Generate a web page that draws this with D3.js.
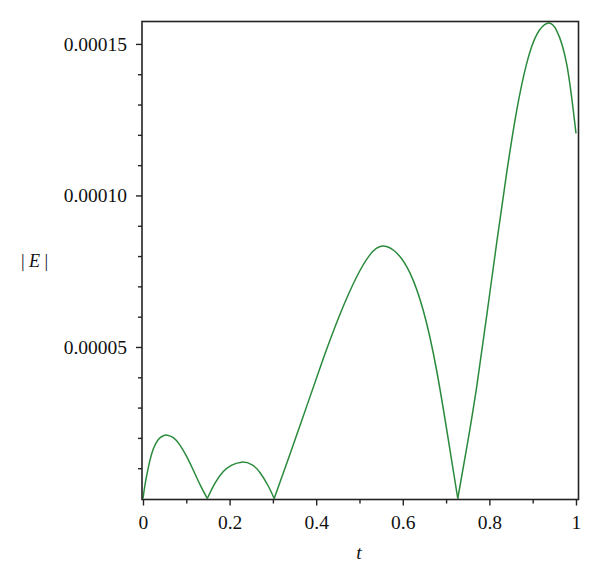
<!DOCTYPE html>
<html>
<head>
<meta charset="utf-8">
<script src="https://cdn.jsdelivr.net/npm/d3@7/dist/d3.min.js"></script>
<style>
  body { margin: 0; background: #fff; }
  svg text { font-family: "Liberation Serif", "DejaVu Serif", serif; fill: #111; }
</style>
</head>
<body>
<svg id="chart" width="600" height="581"></svg>
<script>
// |E(t)|; zeros split the curve into arches
const tValues = [
  0, 0.0046, 0.010, 0.016, 0.024, 0.035, 0.047, 0.056, 0.070, 0.085, 0.101, 0.116, 0.132, 0.1485,
  0.166, 0.185, 0.205, 0.228, 0.251, 0.270, 0.289, 0.303,
  0.339, 0.378, 0.416, 0.455, 0.493, 0.524, 0.553, 0.586, 0.617, 0.647, 0.678, 0.709, 0.727,
  0.748, 0.771, 0.794, 0.817, 0.840, 0.863, 0.886, 0.909, 0.934, 0.955, 0.979, 1.0
]
const eValues = [
  0, 0.45e-5, 0.86e-5, 1.26e-5, 1.64e-5, 1.94e-5, 2.07e-5, 2.09e-5, 2.01e-5, 1.77e-5, 1.38e-5, 0.94e-5, 0.45e-5, 0,
  0.50e-5, 0.88e-5, 1.10e-5, 1.20e-5, 1.12e-5, 0.86e-5, 0.42e-5, 0,
  1.44e-5, 3.04e-5, 4.60e-5, 6.08e-5, 7.30e-5, 8.04e-5, 8.33e-5, 8.10e-5, 7.43e-5, 6.22e-5, 4.24e-5, 1.60e-5, 0,
  1.70e-5, 3.72e-5, 6.05e-5, 8.45e-5, 10.75e-5, 12.8e-5, 14.35e-5, 15.3e-5, 15.68e-5, 15.45e-5, 14.3e-5, 12.05e-5
]

const xMajor = [0, 0.2, 0.4, 0.6, 0.8, 1]
const xMinor = [0.1, 0.3, 0.5, 0.7, 0.9]
const yMajor = [0.00005, 0.0001, 0.00015]
const yMinor = [0.00001, 0.00002, 0.00003, 0.00004, 0.00006, 0.00007, 0.00008, 0.00009,
                0.00011, 0.00012, 0.00013, 0.00014]

const LEFT = 142, RIGHT = 578.5, TOP = 21.5, BOTTOM = 499.5

const x = d3.scaleLinear().domain([-0.0023, 1.0058]).range([LEFT, RIGHT])
const y = d3.scaleLinear().domain([-0.033e-5, 15.74e-5]).range([BOTTOM, TOP])

const svg = d3.select('svg#chart')

// split into arches at interior zeros
const points = tValues.map((t, i) => [t, eValues[i]])
const arches = []
let current = []
points.forEach((p, i) => {
  current.push(p)
  if (p[1] === 0 && i > 0 && i < points.length - 1) {
    arches.push(current)
    current = [p]
  }
})
arches.push(current)

const line = d3.line()
  .x(d => x(d[0]))
  .y(d => y(d[1]))
  .curve(d3.curveNatural)

svg.selectAll('path.curve')
  .data(arches)
  .enter()
  .append('path')
  .attr('class', 'curve')
  .attr('d', line)
  .attr('fill', 'none')
  .attr('stroke', '#2a8a3c')
  .attr('stroke-width', 1.5)

// frame
svg.append('rect')
  .attr('x', LEFT)
  .attr('y', TOP)
  .attr('width', RIGHT - LEFT)
  .attr('height', BOTTOM - TOP)
  .attr('fill', 'none')
  .attr('stroke', '#222')
  .attr('stroke-width', 1.6)

const fmtX = d3.format('~g')
const fmtY = d3.format('.5f')

// x axis
svg.append('g')
  .attr('transform', `translate(0,${BOTTOM})`)
  .call(d3.axisBottom(x).tickValues(xMinor).tickSize(4).tickFormat(''))
  .call(g => g.select('.domain').remove())
svg.append('g')
  .attr('transform', `translate(0,${BOTTOM})`)
  .call(d3.axisBottom(x).tickValues(xMajor).tickSize(6).tickPadding(10).tickFormat(fmtX))
  .call(g => g.select('.domain').remove())
  .call(g => g.selectAll('text').attr('font-size', '19.5px').attr('font-family', null))

// y axis
svg.append('g')
  .attr('transform', `translate(${LEFT},0)`)
  .call(d3.axisLeft(y).tickValues(yMinor).tickSize(4).tickFormat(''))
  .call(g => g.select('.domain').remove())
svg.append('g')
  .attr('transform', `translate(${LEFT},0)`)
  .call(d3.axisLeft(y).tickValues(yMajor).tickSize(6).tickPadding(9).tickFormat(fmtY))
  .call(g => g.select('.domain').remove())
  .call(g => g.selectAll('text').attr('font-size', '19.5px').attr('font-family', null))

svg.selectAll('.tick line').attr('stroke', '#222').attr('stroke-width', 1.4)

// axis titles
svg.append('text')
  .attr('x', 359)
  .attr('y', 559)
  .attr('text-anchor', 'middle')
  .attr('font-size', '19.5px')
  .attr('font-style', 'italic')
  .text('t')

const yTitle = svg.append('text')
  .attr('x', 34.5)
  .attr('y', 267)
  .attr('text-anchor', 'middle')
  .attr('font-size', '18px')
  .attr('xml:space', 'preserve')
yTitle.append('tspan').text('| ')
yTitle.append('tspan').attr('font-style', 'italic').text('E')
yTitle.append('tspan').text(' |')
</script>
</body>
</html>
